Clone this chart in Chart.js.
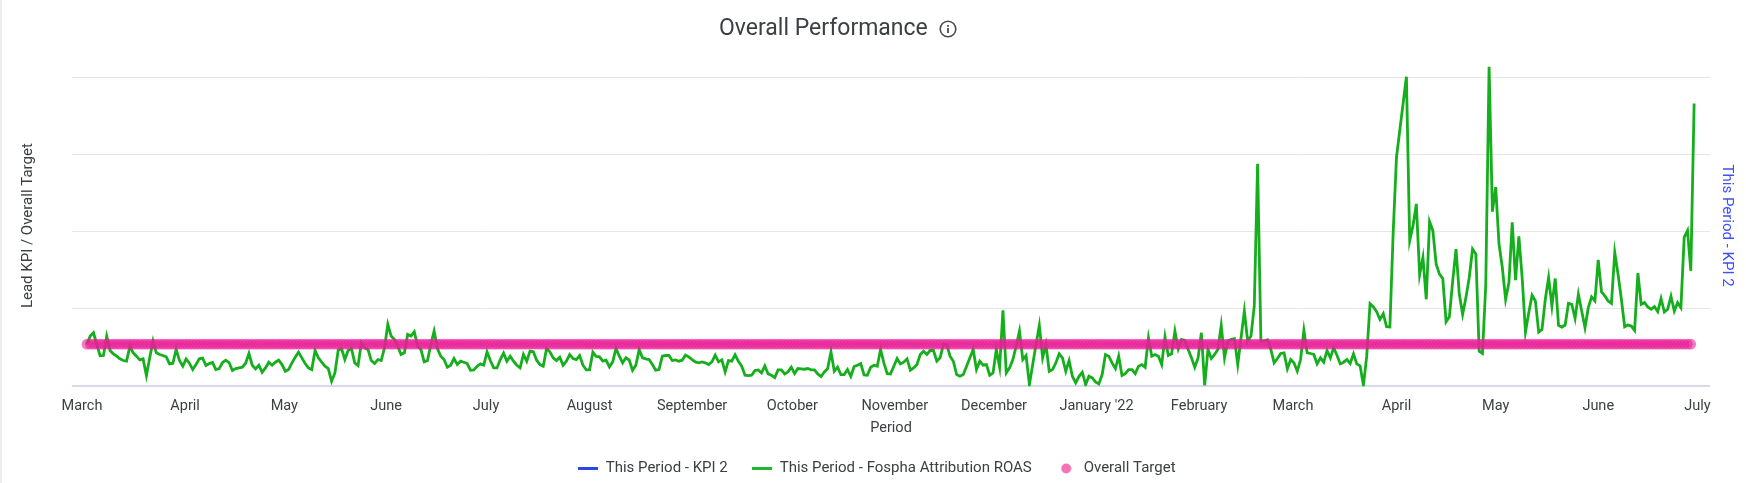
<!DOCTYPE html>
<html><head><meta charset="utf-8">
<script src="https://cdn.jsdelivr.net/npm/chart.js@4/dist/chart.umd.js"></script>
<style>
html,body{margin:0;padding:0;background:#fff;overflow:hidden}
#wrap{position:relative;width:1746px;height:483px}
#strip{position:absolute;left:0;top:0;width:2px;height:483px;background:#eeeeee}
#title{position:absolute;left:719px;top:12px;font:400 23px Roboto,sans-serif;color:#3c4043;line-height:32px;white-space:nowrap}
#info{position:absolute;left:938px;top:19px}
canvas{position:absolute;left:0;top:0}
</style></head><body>
<div id="wrap">
<canvas id="c" width="1746" height="483"></canvas>
<div id="strip"></div>
<div id="title">Overall Performance</div>
<svg id="info" width="20" height="20" viewBox="0 0 20 20"><circle cx="10" cy="10" r="7.8" fill="none" stroke="#4a4d52" stroke-width="1.6"/><rect x="9.1" y="9" width="1.8" height="5" fill="#4a4d52"/><rect x="9.1" y="6" width="1.8" height="1.8" fill="#4a4d52"/></svg>
</div>
<script>
const monthLabels = ["March","April","May","June","July","August","September","October","November","December","January '22","February","March","April","May","June","July"];
const monthDays = [-1.5,29.7,59.7,90.5,120.7,152,183,213.3,244.3,274.3,305.3,336.3,364.7,396,426,457,487];
const gridValues = [0,231,462,693,924];
const kpi2Values = [];
const roasValues = [
125,150,160,125,91,92,150,107,97,90,82,77,75,120,100,90,79,82,32,85,
135,100,95,92,88,67,69,110,77,60,82,69,50,65,82,84,62,68,71,50,
53,71,78,71,47,53,55,57,69,98,63,52,63,42,55,72,63,72,78,65,
45,50,70,87,102,85,68,55,50,107,85,72,60,53,15,40,108,113,80,107,
113,70,62,130,115,110,77,68,80,77,115,185,150,140,120,95,100,155,150,163,
120,110,73,77,125,165,113,90,80,57,63,
83,65,75,72,68,48,49,60,67,63,103,77,55,55,80,99,75,90,75,63,
55,95,75,105,103,78,65,60,113,103,85,77,87,63,75,95,83,80,92,63,
49,49,102,89,88,75,78,58,73,113,90,70,85,78,48,63,110,85,82,80,
65,48,50,90,92,92,77,79,75,78,93,88,80,73,70,73,70,65,73,93,
73,79,43,77,75,94,75,60,33,32,33,47,49,40,61,37,33,26,49,49,
37,43,57,38,53,52,51,53,49,49,37,29,43,53,103,45,57,35,35,50,
30,59,63,68,34,33,57,63,60,110,70,38,37,
60,83,67,72,82,48,55,65,95,105,95,107,107,75,85,125,125,90,75,35,30,
35,60,85,110,50,75,63,65,33,40,110,57,227,40,55,80,120,165,80,92,
5,65,125,182,85,125,45,50,70,97,85,45,77,30,10,30,42,5,30,25,
13,7,35,95,90,70,53,90,32,38,50,50,38,60,65,57,145,90,95,90,
65,148,92,97,165,112,140,137,110,85,57,85,160,3,110,83,95,110,182,85,
135,140,142,65,145,225,
135,150,240,665,135,135,139,110,70,83,98,100,52,80,70,45,80,167,100,98,
95,67,85,72,107,85,115,93,67,72,80,68,97,67,61,3,90,247,237,223,
200,217,178,177,
460,685,765,845,925,435,480,545,333,385,260,492,465,365,335,322,193,208,315,410,
275,215,265,325,410,395,105,98,305,955,522,595,425,355,260,310,490,317,448,325,
162,220,272,255,162,170,260,325,240,322,182,177,183,248,
245,203,275,225,175,235,267,255,378,282,270,255,248,400,335,260,178,183,180,167,
338,245,250,237,230,238,223,262,222,230,269,225,250,235,445,465,345,845];
const targetValues = [
126,126,126,126,126,126,126,126,126,126,126,126,126,126,126,126,126,126,126,126,126,126,126,126,126,126,126,126,126,126,126,126,126,126,126,126,126,126,126,126,126,126,126,126,126,126,126,126,126,126,
126,126,126,126,126,126,126,126,126,126,126,126,126,126,126,126,126,126,126,126,126,126,126,126,126,126,126,126,126,126,126,126,126,126,126,126,126,126,126,126,126,126,126,126,126,126,126,126,126,126,
126,126,126,126,126,126,126,126,126,126,126,126,126,126,126,126,126,126,126,126,126,126,126,126,126,126,126,126,126,126,126,126,126,126,126,126,126,126,126,126,126,126,126,126,126,126,126,126,126,126,
126,126,126,126,126,126,126,126,126,126,126,126,126,126,126,126,126,126,126,126,126,126,126,126,126,126,126,126,126,126,126,126,126,126,126,126,126,126,126,126,126,126,126,126,126,126,126,126,126,126,
126,126,126,126,126,126,126,126,126,126,126,126,126,126,126,126,126,126,126,126,126,126,126,126,126,126,126,126,126,126,126,126,126,126,126,126,126,126,126,126,126,126,126,126,126,126,126,126,126,126,
126,126,126,126,126,126,126,126,126,126,126,126,126,126,126,126,126,126,126,126,126,126,126,126,126,126,126,126,126,126,126,126,126,126,126,126,126,126,126,126,126,126,126,126,126,126,126,126,126,126,
126,126,126,126,126,126,126,126,126,126,126,126,126,126,126,126,126,126,126,126,126,126,126,126,126,126,126,126,126,126,126,126,126,126,126,126,126,126,126,126,126,126,126,126,126,126,126,126,126,126,
126,126,126,126,126,126,126,126,126,126,126,126,126,126,126,126,126,126,126,126,126,126,126,126,126,126,126,126,126,126,126,126,126,126,126,126,126,126,126,126,126,126,126,126,126,126,126,126,126,126,
126,126,126,126,126,126,126,126,126,126,126,126,126,126,126,126,126,126,126,126,126,126,126,126,126,126,126,126,126,126,126,126,126,126,126,126,126,126,126,126,126,126,126,126,126,126,126,126,126,126,
126,126,126,126,126,126,126,126,126,126,126,126,126,126,126,126,126,126,126,126,126,126,126,126,126,126,126,126,126,126,126,126,126,126,126,126];
const seriesNames = ["This Period - KPI 2","This Period - Fospha Attribution ROAS","Overall Target"];
const seriesColors = ["#2a45e8","#15ae1d","rgba(233,30,150,0.58)"];

function asPoints(a){return a.map((y,x)=>({x,y}));}
function lineIcon(color){const k=document.createElement('canvas');k.width=20;k.height=3;const g=k.getContext('2d');g.fillStyle=color;g.fillRect(0,0,20,3);return k;}
function dotIcon(color){const k=document.createElement('canvas');k.width=11;k.height=11;const g=k.getContext('2d');g.fillStyle=color;g.beginPath();g.arc(5.5,5.5,5,0,Math.PI*2);g.fill();return k;}
const icons=[lineIcon("#2a45e8"),lineIcon("#1fb82a"),dotIcon("#f472b6")];
const FONT={family:'Roboto, sans-serif',size:14.5};
const FONT2={family:'Roboto, sans-serif',size:15};

new Chart(document.getElementById('c'),{
 type:'line',
 data:{datasets:[
  {label:seriesNames[0],data:asPoints(kpi2Values),borderColor:seriesColors[0],yAxisID:'y2',pointRadius:0,order:3},
  {label:seriesNames[1],data:asPoints(roasValues),borderColor:seriesColors[1],borderWidth:2.8,tension:0,pointRadius:0,yAxisID:'y',order:2},
  {label:seriesNames[2],data:asPoints(targetValues),showLine:false,pointRadius:5.3,pointBorderWidth:0,pointBackgroundColor:seriesColors[2],yAxisID:'y',order:1}
 ]},
 options:{
  responsive:false,animation:false,events:[],
  layout:{padding:{top:65,left:7.8,right:0,bottom:-3}},
  plugins:{
   tooltip:{enabled:false},title:{display:false},
   legend:{position:'bottom',labels:{usePointStyle:true,pointStyleWidth:20,boxWidth:20,padding:24.4,color:'#3c4043',font:FONT2,
     generateLabels:()=>seriesNames.map((t,i)=>({text:t,pointStyle:icons[i],fillStyle:'#000',strokeStyle:'#000',lineWidth:0,fontColor:'#3c4043',hidden:false,datasetIndex:i}))}}
  },
  scales:{
   x:{type:'linear',min:-4.5,max:490.8,
     afterBuildTicks:s=>{s.ticks=monthDays.map(v=>({value:v}));},
     grid:{display:false},border:{display:false},
     ticks:{autoSkip:false,maxRotation:0,padding:3,color:'#3c4043',font:FONT,callback:(v)=>monthLabels[monthDays.indexOf(v)]},
     title:{display:true,text:'Period',color:'#3c4043',font:FONT,padding:{top:1.5,bottom:0}}},
   y:{position:'left',min:0,max:960,
     afterBuildTicks:s=>{s.ticks=gridValues.map(v=>({value:v}));},
     afterFit:s=>{s.width=64.2;},
     grid:{drawTicks:false,color:c=>c.tick&&c.tick.value===0?'#d6dbe9':'#e6e6e6',lineWidth:c=>c.tick&&c.tick.value===0?2:1},
     border:{display:false},ticks:{display:false},
     title:{display:true,text:'Lead KPI / Overall Target',color:'#3c4043',font:FONT2,padding:{top:11.2,bottom:0}}},
   y2:{position:'right',min:0,max:960,
     afterFit:s=>{s.width=36;},
     grid:{display:false},border:{display:false},ticks:{display:false},
     title:{display:true,text:'This Period - KPI 2',color:'#3f51f5',font:FONT2,padding:{top:10,bottom:0}}}
  }
 }
});
</script>
</body></html>
